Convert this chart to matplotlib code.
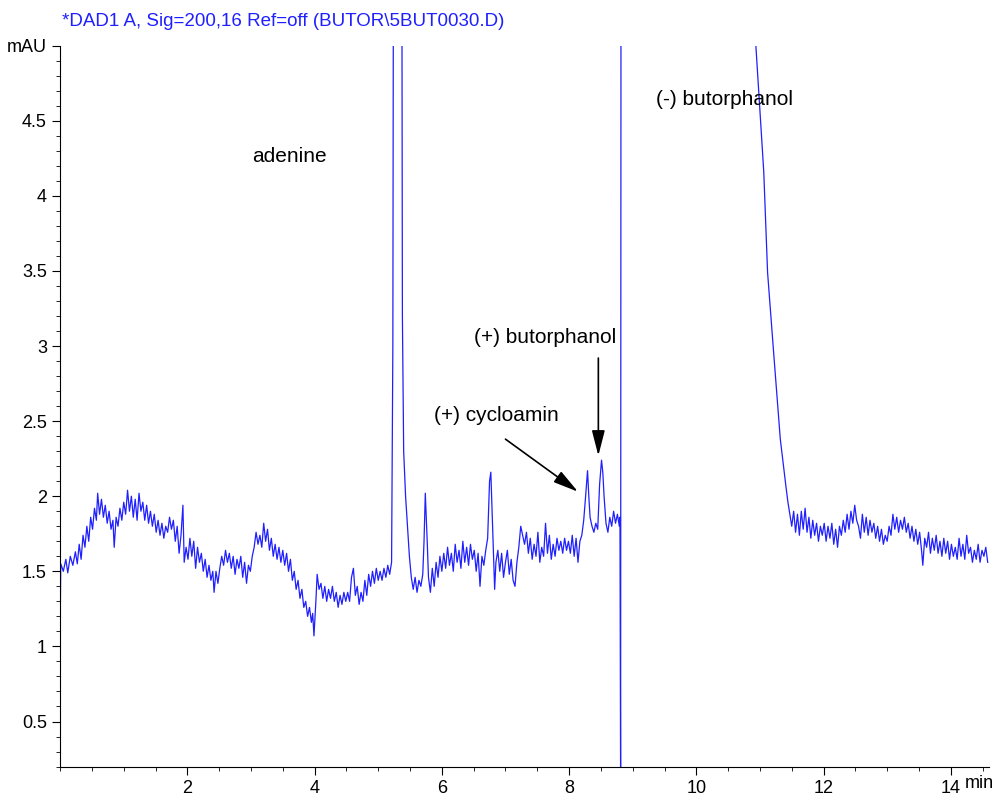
#chromatogram, DAD1 A signal
import numpy as np
import matplotlib.pyplot as plt
from matplotlib.ticker import MultipleLocator

plt.rcParams['font.family'] = ['Liberation Sans', 'DejaVu Sans']

#trace (time in min, signal in mAU), values above 5 are off scale
t_min = [0.00, 0.01, 0.05, 0.09, 0.12, 0.16, 0.20, 0.24, 0.27, 0.30, 0.33, 0.36, 0.39, 0.42, 0.45, 0.48,
         0.51, 0.54, 0.57, 0.59, 0.62, 0.65, 0.68, 0.71, 0.74, 0.77, 0.80, 0.83, 0.85, 0.88, 0.91, 0.94,
         0.97, 1.00, 1.03, 1.06, 1.09, 1.12, 1.15, 1.18, 1.21, 1.24, 1.27, 1.30, 1.33, 1.36, 1.39, 1.42,
         1.45, 1.48, 1.51, 1.54, 1.57, 1.60, 1.63, 1.66, 1.69, 1.72, 1.75, 1.78, 1.81, 1.84, 1.87, 1.90,
         1.93, 1.95, 1.98, 2.01, 2.04, 2.07, 2.10, 2.13, 2.16, 2.19, 2.22, 2.25, 2.28, 2.31, 2.34, 2.37,
         2.40, 2.42, 2.45, 2.48, 2.51, 2.54, 2.57, 2.60, 2.63, 2.66, 2.69, 2.72, 2.75, 2.78, 2.81, 2.84,
         2.87, 2.90, 2.93, 2.96, 2.99, 3.02, 3.05, 3.08, 3.11, 3.14, 3.17, 3.20, 3.23, 3.26, 3.29, 3.32,
         3.35, 3.38, 3.41, 3.44, 3.47, 3.50, 3.53, 3.56, 3.59, 3.62, 3.65, 3.68, 3.71, 3.74, 3.77, 3.80,
         3.83, 3.86, 3.89, 3.92, 3.95, 3.97, 3.99, 4.02, 4.04, 4.07, 4.10, 4.13, 4.16, 4.19, 4.22, 4.25,
         4.28, 4.31, 4.34, 4.37, 4.40, 4.43, 4.46, 4.49, 4.52, 4.55, 4.58, 4.61, 4.64, 4.67, 4.70, 4.73,
         4.76, 4.79, 4.82, 4.85, 4.88, 4.91, 4.94, 4.97, 5.00, 5.03, 5.06, 5.09, 5.12, 5.15, 5.18, 5.21,
         5.23, 5.24, 5.25, 5.36, 5.38, 5.40, 5.43, 5.46, 5.49, 5.52, 5.55, 5.58, 5.61, 5.64, 5.67, 5.70,
         5.72, 5.74, 5.77, 5.79, 5.82, 5.85, 5.88, 5.91, 5.94, 5.97, 6.00, 6.03, 6.06, 6.09, 6.12, 6.15,
         6.18, 6.21, 6.24, 6.27, 6.30, 6.33, 6.36, 6.39, 6.42, 6.45, 6.48, 6.51, 6.54, 6.57, 6.60, 6.63,
         6.66, 6.69, 6.72, 6.75, 6.77, 6.79, 6.81, 6.83, 6.85, 6.88, 6.91, 6.94, 6.97, 7.00, 7.03, 7.06,
         7.09, 7.12, 7.15, 7.18, 7.21, 7.24, 7.27, 7.30, 7.33, 7.36, 7.39, 7.42, 7.45, 7.48, 7.51, 7.54,
         7.57, 7.60, 7.63, 7.66, 7.69, 7.72, 7.75, 7.78, 7.81, 7.84, 7.87, 7.90, 7.93, 7.96, 7.99, 8.02,
         8.05, 8.08, 8.11, 8.14, 8.17, 8.20, 8.23, 8.26, 8.29, 8.31, 8.33, 8.36, 8.39, 8.42, 8.45, 8.48,
         8.51, 8.53, 8.55, 8.58, 8.61, 8.64, 8.67, 8.70, 8.73, 8.76, 8.79, 8.80, 8.81, 8.82, 10.92, 10.93,
         11.06, 11.12, 11.22, 11.32, 11.41, 11.44, 11.47, 11.50, 11.53, 11.56, 11.59, 11.62, 11.65, 11.68, 11.71, 11.74,
         11.77, 11.80, 11.83, 11.86, 11.89, 11.92, 11.95, 11.98, 12.01, 12.04, 12.07, 12.10, 12.13, 12.16, 12.19, 12.22,
         12.25, 12.28, 12.31, 12.34, 12.37, 12.40, 12.43, 12.46, 12.49, 12.52, 12.55, 12.58, 12.61, 12.64, 12.67, 12.70,
         12.73, 12.76, 12.79, 12.82, 12.85, 12.88, 12.91, 12.94, 12.97, 13.00, 13.03, 13.06, 13.09, 13.12, 13.15, 13.18,
         13.21, 13.24, 13.27, 13.30, 13.33, 13.36, 13.39, 13.42, 13.45, 13.48, 13.51, 13.54, 13.56, 13.59, 13.62, 13.65,
         13.68, 13.71, 13.74, 13.77, 13.80, 13.83, 13.86, 13.89, 13.92, 13.95, 13.98, 14.01, 14.04, 14.07, 14.10, 14.13,
         14.16, 14.19, 14.22, 14.25, 14.28, 14.31, 14.34, 14.37, 14.40, 14.43, 14.46, 14.49, 14.52, 14.55, 14.58]
mau = [1.10, 1.55, 1.50, 1.58, 1.49, 1.60, 1.54, 1.63, 1.55, 1.68, 1.58, 1.74, 1.66, 1.80, 1.70, 1.86,
       1.78, 1.92, 1.84, 2.02, 1.88, 1.98, 1.86, 1.94, 1.82, 1.90, 1.78, 1.84, 1.66, 1.86, 1.80, 1.92,
       1.84, 1.96, 1.88, 2.04, 1.90, 2.00, 1.86, 1.98, 1.84, 2.02, 1.90, 1.96, 1.84, 1.94, 1.82, 1.90,
       1.80, 1.88, 1.76, 1.84, 1.74, 1.82, 1.72, 1.80, 1.76, 1.86, 1.78, 1.84, 1.70, 1.80, 1.62, 1.74,
       1.94, 1.56, 1.66, 1.58, 1.72, 1.60, 1.70, 1.52, 1.66, 1.56, 1.62, 1.50, 1.58, 1.46, 1.54, 1.44,
       1.50, 1.36, 1.50, 1.42, 1.52, 1.60, 1.54, 1.64, 1.56, 1.62, 1.52, 1.60, 1.48, 1.58, 1.52, 1.60,
       1.46, 1.56, 1.42, 1.54, 1.50, 1.60, 1.66, 1.76, 1.68, 1.74, 1.66, 1.82, 1.70, 1.78, 1.64, 1.72,
       1.60, 1.68, 1.58, 1.66, 1.56, 1.64, 1.54, 1.62, 1.50, 1.58, 1.44, 1.50, 1.38, 1.44, 1.32, 1.38,
       1.26, 1.30, 1.20, 1.26, 1.16, 1.22, 1.07, 1.30, 1.48, 1.38, 1.42, 1.32, 1.40, 1.30, 1.38, 1.32,
       1.40, 1.30, 1.36, 1.26, 1.34, 1.28, 1.36, 1.30, 1.36, 1.30, 1.46, 1.52, 1.34, 1.40, 1.28, 1.36,
       1.30, 1.44, 1.34, 1.48, 1.40, 1.50, 1.42, 1.52, 1.44, 1.50, 1.44, 1.52, 1.46, 1.54, 1.48, 1.56,
       3.00, 6.00, 9.00, 9.00, 3.20, 2.30, 2.00, 1.80, 1.60, 1.46, 1.38, 1.46, 1.36, 1.44, 1.40, 1.48,
       1.70, 2.02, 1.70, 1.46, 1.36, 1.52, 1.40, 1.56, 1.46, 1.60, 1.50, 1.62, 1.52, 1.66, 1.54, 1.62,
       1.50, 1.68, 1.56, 1.64, 1.52, 1.70, 1.56, 1.66, 1.54, 1.68, 1.58, 1.64, 1.50, 1.62, 1.40, 1.60,
       1.54, 1.64, 1.72, 2.10, 2.16, 1.90, 1.62, 1.38, 1.56, 1.64, 1.50, 1.62, 1.46, 1.56, 1.64, 1.48,
       1.58, 1.44, 1.40, 1.56, 1.66, 1.80, 1.74, 1.68, 1.76, 1.62, 1.72, 1.58, 1.68, 1.60, 1.76, 1.56,
       1.66, 1.60, 1.82, 1.62, 1.74, 1.58, 1.68, 1.60, 1.72, 1.64, 1.70, 1.62, 1.72, 1.64, 1.70, 1.62,
       1.74, 1.60, 1.72, 1.56, 1.70, 1.74, 1.84, 2.00, 2.17, 2.00, 1.86, 1.80, 1.76, 1.82, 1.78, 2.08,
       2.24, 2.16, 2.00, 1.82, 1.76, 1.86, 1.80, 1.90, 1.82, 1.88, 1.80, 1.86, 0.10, 9.00, 9.00, 5.04,
       4.16, 3.49, 2.93, 2.38, 2.06, 1.96, 1.88, 1.80, 1.90, 1.76, 1.88, 1.74, 1.90, 1.78, 1.92, 1.76,
       1.86, 1.72, 1.84, 1.74, 1.82, 1.70, 1.80, 1.74, 1.82, 1.70, 1.80, 1.72, 1.82, 1.68, 1.78, 1.66,
       1.80, 1.74, 1.84, 1.76, 1.88, 1.78, 1.90, 1.82, 1.94, 1.84, 1.80, 1.72, 1.88, 1.76, 1.86, 1.74,
       1.84, 1.76, 1.82, 1.72, 1.80, 1.70, 1.78, 1.68, 1.74, 1.70, 1.80, 1.74, 1.88, 1.78, 1.86, 1.76,
       1.84, 1.78, 1.86, 1.76, 1.82, 1.72, 1.80, 1.70, 1.78, 1.68, 1.76, 1.64, 1.54, 1.72, 1.66, 1.76,
       1.62, 1.72, 1.64, 1.74, 1.62, 1.70, 1.60, 1.72, 1.62, 1.70, 1.58, 1.68, 1.60, 1.66, 1.58, 1.72,
       1.60, 1.68, 1.58, 1.74, 1.62, 1.66, 1.56, 1.64, 1.58, 1.68, 1.56, 1.64, 1.60, 1.66, 1.56]

title = '*DAD1 A, Sig=200,16 Ref=off (BUTOR\\5BUT0030.D)'
x_ticks = [2, 4, 6, 8, 10, 12, 14]
y_ticks = [0.5, 1, 1.5, 2, 2.5, 3, 3.5, 4, 4.5, 5]
y_labels = ['0.5', '1', '1.5', '2', '2.5', '3', '3.5', '4', '4.5', 'mAU']

#peak labels: text, text position, arrow tip (None = no arrow)
peak_names = ['adenine', '(-) butorphanol', '(+) cycloamin', '(+) butorphanol']
label_xy = [(3.02, 4.26), (9.36, 4.64), (5.87, 2.54), (6.50, 3.06)]
arrow_from = [None, None, (7.00, 2.38), (8.46, 2.92)]
arrow_to = [None, None, (8.14, 2.03), (8.46, 2.27)]

fig = plt.figure(figsize=(10.02, 8.01), dpi=100)
ax = fig.add_axes([0.06, 0.043, 0.927, 0.9])

ax.plot(t_min, mau, color='#1f1fff', lw=0.9)

ax.set_xlim(0, 14.6)
ax.set_ylim(0.2, 5.0)
for s in ['top', 'right']:
    ax.spines[s].set_visible(False)

ax.set_xticks(x_ticks)
ax.xaxis.set_minor_locator(MultipleLocator(0.5))
ax.set_yticks(y_ticks)
ax.set_yticklabels(y_labels)
ax.yaxis.set_minor_locator(MultipleLocator(0.1))
ax.tick_params(which='major', length=6, labelsize=13)
ax.tick_params(which='minor', length=3)
ax.text(14.22, -0.012, 'min', transform=ax.get_xaxis_transform(), ha='left', va='top', fontsize=13)

ax.text(0.002, 1.033, title, transform=ax.transAxes, color='#1f1fff', fontsize=13.5, ha='left', va='center')

for i in range(len(peak_names)):
    ax.text(label_xy[i][0], label_xy[i][1], peak_names[i], fontsize=15, ha='left', va='center')
    if arrow_from[i] is not None:
        ax.annotate('', xy=arrow_to[i], xytext=arrow_from[i],
                    arrowprops=dict(arrowstyle='-|>,head_length=0.7,head_width=0.18',
                                    color='black', lw=1.2, mutation_scale=22, shrinkA=0, shrinkB=0))

plt.savefig('out.png', dpi=100)
